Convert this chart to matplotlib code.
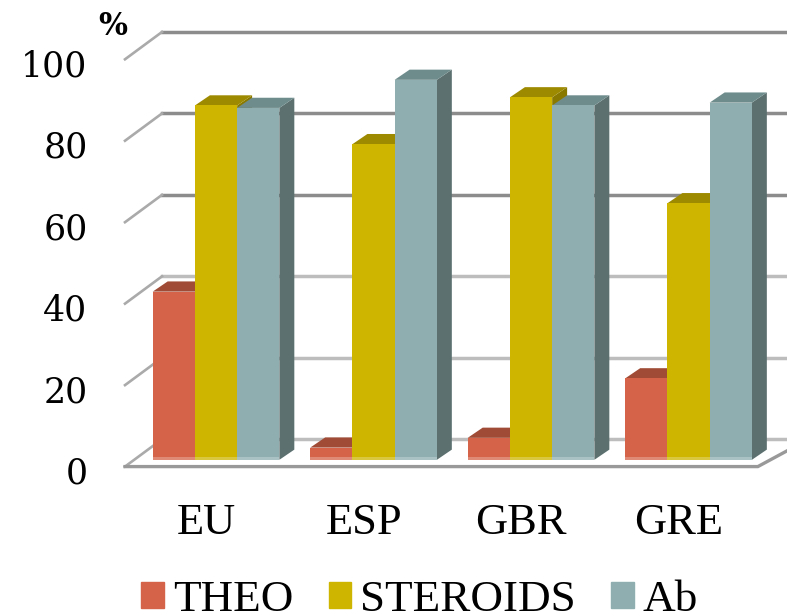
import matplotlib
matplotlib.use("Agg")
import matplotlib.pyplot as plt
from matplotlib.patches import Polygon, Patch

groups = ["EU", "ESP", "GBR", "GRE"]
theo = [41.3, 3, 5.4, 20]
steroids = [87, 77.5, 89, 63]
ab = [86.4, 93.3, 87, 87.7]
y_ticks = [0, 20, 40, 60, 80, 100]

W, H = 787, 616
fig = plt.figure(figsize=(W / 100, H / 100), dpi=100)
# axes box in pixels: x 125..787, y 25..470
ax = fig.add_axes([125 / W, 1 - 470 / H, (787 - 125) / W, (470 - 25) / H])
ax.set_xlim(-0.578, 3.625)
ax.set_ylim(-1.78, 106.76)
ax.patch.set_visible(False)
for s in ax.spines.values():
    s.set_visible(False)

bw = 0.268
dx, dy = 0.095, 2.5  # depth of the bars
# gridlines, 3d box
for v in y_ticks:
    c = "#8c8c8c" if v >= 60 else "#bdbdbd"
    ax.plot([-0.343, 3.625], [v + 5.05, v + 5.05], color=c, lw=2.5, zorder=1)
    ax.plot([-0.578, -0.343], [v - 1.66, v + 5.05], color="#aaaaaa", lw=1.9, zorder=1, clip_on=False)
ax.plot([-0.578, 3.44, 3.625], [-1.66, -1.66, 2.2], color="#999999", lw=2.4, zorder=1,
        solid_joinstyle="miter", clip_on=False)

series = [("THEO", theo, "#d4634a", "#a04b35", "#8f4230"),
          ("STEROIDS", steroids, "#cdb500", "#9e8a00", "#8a7900"),
          ("Ab", ab, "#8eaeb0", "#6f8c8c", "#5c7070")]
z = 2
for k, (name, vals, col, top, side) in enumerate(series):
    off = (k - 1) * bw
    for i, v in enumerate(vals):
        x0 = i + off - bw / 2
        x1 = x0 + bw
        ax.add_patch(Polygon([(x1, 0), (x1 + dx, dy), (x1 + dx, v + dy), (x1, v)], fc=side, ec="none", zorder=z))
        ax.add_patch(Polygon([(x0, v), (x0 + dx, v + dy), (x1 + dx, v + dy), (x1, v)], fc=top, ec="none", zorder=z))
        ax.bar(i + off, v, bw, color=col, zorder=z + 0.5)
        ax.bar(i + off, min(v, 0.8), bw, color="white", alpha=0.25, zorder=z + 0.6)
        z += 1

ax.set_xticks([i - 0.063 for i in range(len(groups))])
ax.set_xticklabels(groups, family="Liberation Serif", fontsize=32)
ax.set_yticks([v - 2.5 for v in y_ticks])
ax.set_yticklabels(y_ticks, family="DejaVu Serif", fontsize=25)
ax.tick_params(axis="x", length=0, pad=24)
ax.tick_params(axis="y", length=0, pad=27)
ax.text(-0.654, 106.3, "%", family="DejaVu Serif", fontsize=22, fontweight="bold", ha="center", va="center", clip_on=False)

handles = [Patch(color=s[2], label=s[0]) for s in series]
ax.legend(handles=handles, loc="center", bbox_to_anchor=(0.445, -0.293), ncol=3, frameon=False,
          prop={"family": "Liberation Serif", "size": 32.5}, handlelength=0.5, handleheight=0.5,
          handletextpad=0.2, columnspacing=0.78, borderpad=0)

fig.savefig("out.png", dpi=100)
